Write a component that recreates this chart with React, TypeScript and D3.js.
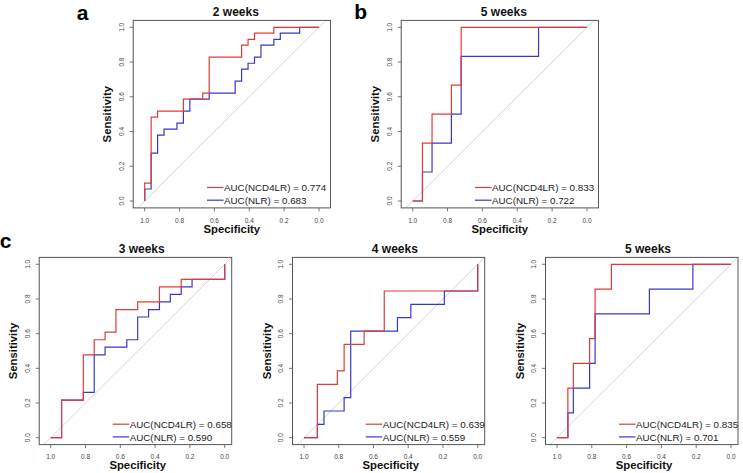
import React from 'react';
import * as d3 from 'd3';

// ---------- data (ROC curve vertices: specificity, sensitivity) ----------
const aRedSpec = [1, 1, 0.963, 0.963, 0.926, 0.926, 0.778, 0.778, 0.667, 0.667, 0.63, 0.63, 0.444, 0.444, 0.407, 0.407, 0.37, 0.37, 0.259, 0.259, 0];
const aRedSens = [0, 0.103, 0.103, 0.483, 0.483, 0.517, 0.517, 0.586, 0.586, 0.621, 0.621, 0.828, 0.828, 0.897, 0.897, 0.931, 0.931, 0.966, 0.966, 1, 1];
const aBlueSpec = [1, 1, 0.963, 0.963, 0.926, 0.926, 0.889, 0.889, 0.815, 0.815, 0.778, 0.778, 0.741, 0.741, 0.63, 0.63, 0.481, 0.481, 0.444, 0.444, 0.407, 0.407, 0.37, 0.37, 0.333, 0.333, 0.259, 0.259, 0.222, 0.222, 0.111, 0.111, 0];
const aBlueSens = [0, 0.069, 0.069, 0.276, 0.276, 0.379, 0.379, 0.414, 0.414, 0.448, 0.448, 0.517, 0.517, 0.586, 0.586, 0.621, 0.621, 0.69, 0.69, 0.759, 0.759, 0.793, 0.793, 0.828, 0.828, 0.897, 0.897, 0.931, 0.931, 0.966, 0.966, 1, 1];

const bRedSpec = [1, 0.944, 0.944, 0.889, 0.889, 0.778, 0.778, 0.722, 0.722, 0];
const bRedSens = [0, 0, 0.333, 0.333, 0.5, 0.5, 0.667, 0.667, 1, 1];
const bBlueSpec = [1, 0.944, 0.944, 0.889, 0.889, 0.778, 0.778, 0.722, 0.722, 0.278, 0.278, 0];
const bBlueSens = [0, 0, 0.167, 0.167, 0.333, 0.333, 0.5, 0.5, 0.833, 0.833, 1, 1];

const c1RedSpec = [1, 0.9375, 0.9375, 0.8125, 0.8125, 0.75, 0.75, 0.6875, 0.6875, 0.625, 0.625, 0.5, 0.5, 0.375, 0.375, 0.25, 0.25, 0, 0];
const c1RedSens = [0, 0, 0.217, 0.217, 0.478, 0.478, 0.565, 0.565, 0.609, 0.609, 0.739, 0.739, 0.783, 0.783, 0.87, 0.87, 0.913, 0.913, 1];
const c1BlueSpec = [1, 0.9375, 0.9375, 0.8125, 0.8125, 0.75, 0.75, 0.6875, 0.6875, 0.5625, 0.5625, 0.5, 0.5, 0.4375, 0.4375, 0.375, 0.375, 0.3125, 0.3125, 0.25, 0.25, 0.1875, 0.1875, 0, 0];
const c1BlueSens = [0, 0, 0.217, 0.217, 0.261, 0.261, 0.478, 0.478, 0.522, 0.522, 0.565, 0.565, 0.696, 0.696, 0.739, 0.739, 0.783, 0.783, 0.826, 0.826, 0.87, 0.87, 0.913, 0.913, 1];

const c2RedSpec = [1, 0.923, 0.923, 0.808, 0.808, 0.769, 0.769, 0.654, 0.654, 0.538, 0.538, 0, 0];
const c2RedSens = [0, 0, 0.308, 0.308, 0.385, 0.385, 0.538, 0.538, 0.615, 0.615, 0.846, 0.846, 1];
const c2BlueSpec = [1, 0.923, 0.923, 0.885, 0.885, 0.769, 0.769, 0.731, 0.731, 0.462, 0.462, 0.385, 0.385, 0.192, 0.192, 0, 0];
const c2BlueSens = [0, 0, 0.077, 0.077, 0.154, 0.154, 0.231, 0.231, 0.615, 0.615, 0.692, 0.692, 0.769, 0.769, 0.846, 0.846, 1];

const c3RedSpec = [1, 0.9375, 0.9375, 0.906, 0.906, 0.8125, 0.8125, 0.781, 0.781, 0.6875, 0.6875, 0];
const c3RedSens = [0, 0, 0.286, 0.286, 0.429, 0.429, 0.571, 0.571, 0.857, 0.857, 1, 1];
const c3BlueSpec = [1, 0.9375, 0.9375, 0.906, 0.906, 0.8125, 0.8125, 0.781, 0.781, 0.469, 0.469, 0.219, 0.219, 0];
const c3BlueSens = [0, 0, 0.143, 0.143, 0.286, 0.286, 0.429, 0.429, 0.714, 0.714, 0.857, 0.857, 1, 1];

const panelTitles = ['2 weeks', '5 weeks', '3 weeks', '4 weeks', '5 weeks'];
const redAucLabels = ['AUC(NCD4LR) = 0.774', 'AUC(NCD4LR) = 0.833', 'AUC(NCD4LR) = 0.658', 'AUC(NCD4LR) = 0.639', 'AUC(NCD4LR) = 0.835'];
const blueAucLabels = ['AUC(NLR) = 0.683', 'AUC(NLR) = 0.722', 'AUC(NLR) = 0.590', 'AUC(NLR) = 0.559', 'AUC(NLR) = 0.701'];
const tickValues = [1.0, 0.8, 0.6, 0.4, 0.2, 0.0];
const tickLabels = ['1.0', '0.8', '0.6', '0.4', '0.2', '0.0'];

const RED = '#e23b36';
const BLUE = '#3838c8';
const FONT = '"Liberation Sans", Arial, Helvetica, sans-serif';

type PanelProps = {
  id: string;
  x1: number; x0: number; yTop: number; yBot: number;
  padL: number; padR: number;
  title: string;
  redSpec: number[]; redSens: number[];
  blueSpec: number[]; blueSens: number[];
  redLabel: string; blueLabel: string;
};

function Panel(p: PanelProps) {
  const xs = d3.scaleLinear().domain([1, 0]).range([p.x1, p.x0]);
  const ys = d3.scaleLinear().domain([0, 1]).range([p.yBot, p.yTop]);
  const mk = (sp: number[], se: number[]) =>
    d3.line<[number, number]>().x(d => xs(d[0])).y(d => ys(d[1]))(sp.map((s, i) => [s, se[i]] as [number, number])) || '';
  const boxL = p.x1 - p.padL, boxR = p.x0 + p.padR;
  const boxT = p.yTop - 6.9, boxB = p.yBot + 6.9;
  const cx = (p.x1 + p.x0) / 2;
  const cy = (p.yTop + p.yBot) / 2;
  const legX = p.x0;
  return (
    <g>
      <defs>
        <clipPath id={`clip-${p.id}`}>
          <rect x={boxL} y={boxT} width={boxR - boxL} height={boxB - boxT} />
        </clipPath>
      </defs>
      <g clipPath={`url(#clip-${p.id})`}>
        <line x1={xs(1.1)} y1={ys(-0.1)} x2={xs(-0.1)} y2={ys(1.1)} stroke="#c9c9c9" strokeWidth={0.8} />
        <path d={mk(p.blueSpec, p.blueSens)} fill="none" stroke={BLUE} strokeWidth={1.2} />
        <path d={mk(p.redSpec, p.redSens)} fill="none" stroke={RED} strokeWidth={1.2} />
      </g>
      <rect x={boxL} y={boxT} width={boxR - boxL} height={boxB - boxT} fill="none" stroke="#555" strokeWidth={1} />
      {tickValues.map((t, i) => (
        <g key={'x' + i}>
          <line x1={xs(t)} x2={xs(t)} y1={boxB} y2={boxB + 3.5} stroke="#555" strokeWidth={0.8} />
          <text x={xs(t)} y={p.yBot + 19} fontSize={6.5} fill="#444" textAnchor="middle" dominantBaseline="central" fontFamily={FONT}>{tickLabels[i]}</text>
        </g>
      ))}
      {tickValues.map((t, i) => (
        <g key={'y' + i}>
          <line x1={boxL - 3.5} x2={boxL} y1={ys(t)} y2={ys(t)} stroke="#555" strokeWidth={0.8} />
          <text x={0} y={0} transform={`translate(${p.x1 - 23.2},${ys(t)}) rotate(-90)`} fontSize={6.5} fill="#444" textAnchor="middle" dominantBaseline="central" fontFamily={FONT}>{tickLabels[i]}</text>
        </g>
      ))}
      <text x={cx + 4} y={p.yTop - 11.8} fontSize={12} fontWeight="bold" textAnchor="middle" fontFamily={FONT} fill="#111">{p.title}</text>
      <text x={cx} y={p.yBot + 31.7} fontSize={11.3} fontWeight="bold" textAnchor="middle" fontFamily={FONT} fill="#111">Specificity</text>
      <text x={0} y={0} transform={`translate(${p.x1 - 37.3},${cy}) rotate(-90)`} fontSize={11.3} fontWeight="bold" textAnchor="middle" dominantBaseline="central" fontFamily={FONT} fill="#111">Sensitivity</text>
      <line x1={legX - 112} x2={legX - 95.5} y1={p.yBot - 13.5} y2={p.yBot - 13.5} stroke={RED} strokeWidth={1.2} />
      <text x={legX - 95} y={p.yBot - 13.3} fontSize={9.8} dominantBaseline="central" fontFamily={FONT} fill="#222">{p.redLabel}</text>
      <line x1={legX - 112} x2={legX - 95.5} y1={p.yBot - 0.8} y2={p.yBot - 0.8} stroke={BLUE} strokeWidth={1.2} />
      <text x={legX - 95} y={p.yBot - 0.6} fontSize={9.8} dominantBaseline="central" fontFamily={FONT} fill="#222">{p.blueLabel}</text>
    </g>
  );
}

export default function App() {
  const layout = [
    { id: 'a', x1: 144.7, x0: 319, yTop: 27.3, yBot: 201, padL: 11.5, padR: 11.5 },
    { id: 'b', x1: 412.7, x0: 587, yTop: 27.3, yBot: 201, padL: 11.5, padR: 11.5 },
    { id: 'c1', x1: 50.7, x0: 224.7, yTop: 264.3, yBot: 437.7, padL: 11.5, padR: 7 },
    { id: 'c2', x1: 304, x0: 477.7, yTop: 264.3, yBot: 437.7, padL: 11.5, padR: 7 },
    { id: 'c3', x1: 557, x0: 731, yTop: 264.3, yBot: 437.7, padL: 11.5, padR: 7 },
  ];
  const series = [
    [aRedSpec, aRedSens, aBlueSpec, aBlueSens],
    [bRedSpec, bRedSens, bBlueSpec, bBlueSens],
    [c1RedSpec, c1RedSens, c1BlueSpec, c1BlueSens],
    [c2RedSpec, c2RedSens, c2BlueSpec, c2BlueSens],
    [c3RedSpec, c3RedSens, c3BlueSpec, c3BlueSens],
  ];
  return (
    <svg width={743} height={473} style={{ position: 'absolute', left: 0, top: 0, background: '#fff' }}>
      <rect x={0} y={0} width={743} height={473} fill="#fff" />
      {layout.map((l, i) => (
        <Panel key={l.id} {...l} title={panelTitles[i]}
          redSpec={series[i][0]} redSens={series[i][1]}
          blueSpec={series[i][2]} blueSens={series[i][3]}
          redLabel={redAucLabels[i]} blueLabel={blueAucLabels[i]} />
      ))}
      <text x={82.7} y={19.5} fontSize={21} fontWeight="bold" textAnchor="middle" fontFamily={FONT} fill="#000">a</text>
      <text x={360.7} y={18.5} fontSize={21} fontWeight="bold" textAnchor="middle" fontFamily={FONT} fill="#000">b</text>
      <text x={5.5} y={248} fontSize={21} fontWeight="bold" textAnchor="middle" fontFamily={FONT} fill="#000">c</text>
    </svg>
  );
}
